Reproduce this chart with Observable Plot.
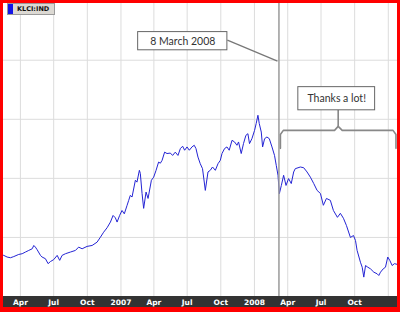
<!DOCTYPE html>
<html>
<head>
<meta charset="utf-8">
<script src="https://cdn.jsdelivr.net/npm/d3@7"></script>
<script src="https://cdn.jsdelivr.net/npm/@observablehq/plot@0.6"></script>
<style>
  html, body { margin: 0; padding: 0; background: #fff; }
  #frame { position: relative; width: 400px; height: 312px; box-sizing: border-box;
           background: #f00; padding: 3px 3px 5px 3px; }
  #chart svg { display: block; }
  #legend { position: absolute; left: 7px; top: 3px; width: 46px; height: 10px;
            background: #dcd9d3; border: 1px solid #9a9a9a; box-sizing: content-box;
            font: bold 6.5px "DejaVu Sans", sans-serif; color: #111; line-height: 10px; }
  #legend .sw { position: absolute; left: 0; top: 0; width: 5px; height: 10px; background: #1414e6; }
  #legend .tx { position: absolute; left: 9px; top: 0; }
</style>
</head>
<body>
<div id="frame">
  <div id="chart"></div>
  <div id="legend"><span class="sw"></span><span class="tx">KLCI:IND</span></div>
</div>
<script>
// KLCI index series: time as decimal year, index level
const years = [2006.097,2006.122,2006.147,2006.172,2006.197,2006.234,2006.260,2006.284,2006.309,2006.335,
  2006.347,2006.359,2006.372,2006.397,2006.409,2006.434,2006.454,2006.472,2006.496,2006.522,
  2006.541,2006.559,2006.584,2006.621,2006.659,2006.683,2006.709,2006.746,2006.784,2006.821,
  2006.846,2006.870,2006.896,2006.921,2006.941,2006.958,2006.971,2006.990,2007.008,2007.025,
  2007.046,2007.058,2007.070,2007.083,2007.108,2007.120,2007.138,2007.145,2007.158,2007.170,
  2007.188,2007.203,2007.228,2007.245,2007.263,2007.282,2007.295,2007.308,2007.327,2007.345,
  2007.370,2007.387,2007.407,2007.427,2007.445,2007.462,2007.477,2007.495,2007.512,2007.532,
  2007.549,2007.562,2007.577,2007.594,2007.611,2007.632,2007.652,2007.669,2007.686,2007.707,
  2007.727,2007.744,2007.757,2007.776,2007.794,2007.811,2007.832,2007.851,2007.869,2007.881,
  2007.901,2007.918,2007.936,2007.951,2007.963,2007.981,2008.001,2008.013,2008.026,2008.036,
  2008.051,2008.061,2008.076,2008.093,2008.111,2008.131,2008.150,2008.163,2008.176,2008.186,
  2008.201,2008.218,2008.236,2008.255,2008.275,2008.293,2008.305,2008.343,2008.368,2008.393,
  2008.418,2008.443,2008.468,2008.493,2008.515,2008.538,2008.567,2008.590,2008.620,2008.642,
  2008.665,2008.687,2008.717,2008.740,2008.755,2008.767,2008.792,2008.805,2008.817,2008.830,
  2008.847,2008.867,2008.892,2008.917,2008.929,2008.942,2008.962,2008.979,2008.996,2009.011,
  2009.029,2009.046,2009.066];
const values = [927,924,917,914,919,928,931,938,945,952,
  966,959,948,924,917,910,889,898,906,924,
  903,924,931,938,945,959,952,962,966,980,
  1001,1022,1041,1065,1093,1083,1065,1093,1114,1100,
  1136,1157,1178,1171,1242,1234,1284,1271,1186,1123,
  1192,1165,1242,1255,1284,1319,1314,1326,1361,1355,
  1357,1347,1361,1347,1376,1386,1369,1383,1369,1383,
  1390,1376,1340,1312,1291,1199,1277,1284,1298,1284,
  1312,1326,1355,1376,1383,1369,1411,1404,1390,1404,
  1355,1397,1432,1439,1397,1418,1453,1482,1517,1482,
  1446,1383,1418,1425,1418,1383,1347,1305,1263,1185,
  1220,1263,1220,1249,1228,1277,1291,1298,1295,1277,
  1255,1228,1199,1186,1136,1165,1157,1114,1085,1102,
  1081,1051,1000,1008,987,945,895,874,832,881,
  874,867,853,846,839,853,867,874,917,903,
  881,889,886];

// axis ticks
const tickDates = ["2006-04-01","2006-07-01","2006-10-01","2007-01-01","2007-04-01","2007-07-01","2007-10-01","2008-01-01","2008-04-01","2008-07-01","2008-10-01"];
const tickLabels = ["Apr","Jul","Oct","2007","Apr","Jul","Oct","2008","Apr","Jul","Oct"];
const gridDates = [...tickDates, "2009-01-01"];
const gridValues = [1000, 1250, 1500, 1750];
const xDomainYears = [2006.120, 2009.069];
const yDomain = [750, 1990];

// annotations
const markerDate = "2008-03-08";
const annoLabels = ["8 March 2008", "Thanks a lot!"];
const annoX1 = ["2007-02-17", "2008-04-30"];
const annoX2 = ["2007-10-19", "2008-11-26"];
const annoY1 = [1792, 1538];
const annoY2 = [1869, 1636];
const annoTextX = ["2007-06-19", "2008-08-13"];
const annoTextY = [1830, 1587];
const connectorFrom = ["2007-10-19", 1835];
const connectorTo = ["2008-03-04", 1746];
const braceX = ["2008-03-12","2008-03-12","2008-03-20","2008-08-07","2008-08-17","2008-08-17",
                "2009-01-22","2009-01-22","2009-01-14","2008-08-28","2008-08-17"];
const braceY = [1377,1436,1453,1453,1470,1538, 1377,1436,1453,1453,1470];
const braceSide = ["L","L","L","L","L","L","R","R","R","R","R"];

const D = s => new Date(s);
const Y = y => { const yr = Math.floor(y), a = Date.UTC(yr, 0, 1), b = Date.UTC(yr + 1, 0, 1); return new Date(a + (y - yr) * (b - a)); };
const series = years.map((y, i) => ({date: Y(y), value: values[i]}));
const boxes = annoLabels.map((t, i) => ({text: t, x1: D(annoX1[i]), x2: D(annoX2[i]), y1: annoY1[i], y2: annoY2[i], tx: D(annoTextX[i]), ty: annoTextY[i]}));
const brace = braceX.map((d, i) => ({x: D(d), y: braceY[i], side: braceSide[i]}));
const labelOf = new Map(tickDates.map((d, i) => [+D(d), tickLabels[i]]));

const chart = Plot.plot({
  width: 394, height: 304,
  marginLeft: 0, marginRight: 0, marginTop: 0, marginBottom: 11,
  style: {background: "linear-gradient(to bottom, #fff 0, #fff 293px, #333 293px, #333 100%)", overflow: "hidden"},
  x: {type: "utc", domain: xDomainYears.map(Y)},
  y: {domain: yDomain, axis: null},
  marks: [
    Plot.gridX(gridDates.map(D), {stroke: "#dcdcdc", strokeOpacity: 1, strokeWidth: 1}),
    Plot.gridY(gridValues, {stroke: "#dcdcdc", strokeOpacity: 1, strokeWidth: 1}),
    Plot.axisX(tickDates.map(D), {tickSize: 0, tickPadding: 3.5, tickFormat: d => labelOf.get(+d), fill: "#fff", fontWeight: "bold", fontSize: 7.5, fontFamily: "DejaVu Sans", label: null}),
    Plot.line(series, {x: "date", y: "value", stroke: "#2424d4", strokeWidth: 1, clip: true}),
    Plot.ruleX([D(markerDate)], {stroke: "#9a9a9a", strokeWidth: 1.5}),
    Plot.link([0], {x1: () => D(connectorFrom[0]), y1: () => connectorFrom[1], x2: () => D(connectorTo[0]), y2: () => connectorTo[1], stroke: "#777", strokeWidth: 1.2}),
    Plot.line(brace, {x: "x", y: "y", z: "side", stroke: "#888", strokeWidth: 1.6, curve: "linear"}),
    Plot.rect(boxes, {x1: "x1", x2: "x2", y1: "y1", y2: "y2", fill: "#fff", stroke: "#666", strokeWidth: 1}),
    Plot.text(boxes, {x: "tx", y: "ty", text: "text", fontFamily: "Lato", fontSize: 10.5, fill: "#333"})
  ]
});
document.getElementById("chart").append(chart);
</script>
</body>
</html>
